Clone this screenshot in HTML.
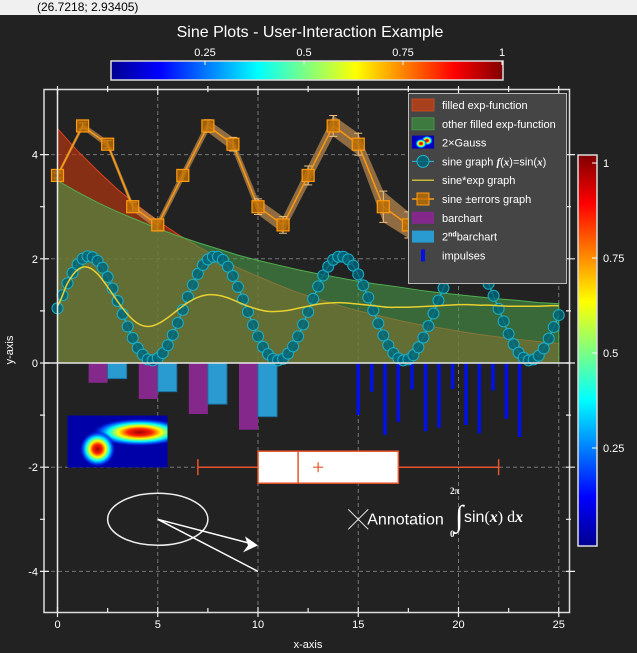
<!DOCTYPE html>
<html><head><meta charset="utf-8"><style>
html,body{margin:0;padding:0;background:#222;width:637px;height:653px;overflow:hidden;font-family:"Liberation Sans",sans-serif}
#status{position:absolute;left:0;top:0;width:637px;height:15px;background:#f0f0f0;font-size:12px;color:#000;line-height:14px}
#status span{position:absolute;left:37px;top:0}
svg{position:absolute;left:0;top:0}
</style></head><body>
<div id="status"><span>(26.7218; 2.93405)</span></div>
<svg id="chart" width="637" height="653" font-family="Liberation Sans, sans-serif">
<defs>
<linearGradient id="jetH" x1="0" x2="1" y1="0" y2="0">
<stop offset="0" stop-color="#00008f"/><stop offset="0.125" stop-color="#0000ff"/><stop offset="0.375" stop-color="#00ffff"/><stop offset="0.625" stop-color="#ffff00"/><stop offset="0.875" stop-color="#ff0000"/><stop offset="1" stop-color="#800000"/>
</linearGradient>
<linearGradient id="jetV" x1="0" x2="0" y1="1" y2="0">
<stop offset="0" stop-color="#00008f"/><stop offset="0.125" stop-color="#0000ff"/><stop offset="0.375" stop-color="#00ffff"/><stop offset="0.625" stop-color="#ffff00"/><stop offset="0.875" stop-color="#ff0000"/><stop offset="1" stop-color="#800000"/>
</linearGradient>
<radialGradient id="g1"><stop offset="0" stop-color="#a00000"/><stop offset="0.25" stop-color="#ff2000"/><stop offset="0.45" stop-color="#ffff00"/><stop offset="0.65" stop-color="#00ffff"/><stop offset="0.85" stop-color="#0040ff" stop-opacity="0.8"/><stop offset="1" stop-color="#0000a0" stop-opacity="0"/></radialGradient>
<clipPath id="imgclip"><rect x="67.5" y="415.5" width="100" height="52"/></clipPath>
<clipPath id="plotclip"><rect x="44" y="89" width="526" height="524"/></clipPath>
</defs>
<text x="310" y="37" fill="#fff" font-size="16" text-anchor="middle">Sine Plots - User-Interaction Example</text>
<g id="topbar">
<rect x="111" y="61" width="392" height="19" fill="url(#jetH)" stroke="#ddd" stroke-width="1.5"/>
</g>
<g id="rightbar">
<rect x="578" y="155" width="19" height="391" fill="url(#jetV)" stroke="#ddd" stroke-width="1.5"/>
</g>
<g id="frame"></g>
<g id="grid"></g>
<g id="series" clip-path="url(#plotclip)"></g>
<g id="axes"></g>
<g id="legend"></g>
</svg>
<script>
// ---- data ----
const gridX=[5,10,15,20,25];
const gridY=[-4,-2,2,4];
const xTicks=[0,5,10,15,20,25];
const xMinor=[0,2.5,5,7.5,10,12.5,15,17.5,20,22.5,25];
const yTicks=[-4,-2,0,2,4];
const yMinor=[-4,-3,-2,-1,0,1,2,3,4];
const fillX=[0,1,2,3,4,5,6,7,8,9,10,11,12,13,14,15,16,17,18,19,20,21,22,23,24,25];
const redFill=[4.50,4.07,3.69,3.33,3.02,2.73,2.47,2.24,2.02,1.83,1.66,1.50,1.35,1.23,1.11,1.00,0.91,0.82,0.74,0.68,0.61,0.55,0.50,0.45,0.41,0.37];
const greenFill=[3.50,3.28,3.08,2.90,2.74,2.58,2.44,2.31,2.19,2.07,1.97,1.88,1.79,1.71,1.64,1.57,1.51,1.46,1.40,1.35,1.31,1.27,1.23,1.20,1.16,1.14];
const sineStep=0.25;
const sineY=[1.05,1.30,1.53,1.73,1.89,2.00,2.05,2.03,1.96,1.83,1.65,1.43,1.19,0.94,0.70,0.48,0.29,0.16,0.07,0.05,0.09,0.19,0.34,0.54,0.77,1.02,1.27,1.50,1.71,1.88,1.99,2.04,2.04,1.98,1.85,1.67,1.46,1.22,0.98,0.73,0.51,0.31,0.17,0.08,0.05,0.08,0.18,0.32,0.51,0.74,0.98,1.23,1.47,1.68,1.85,1.98,2.04,2.04,1.99,1.87,1.70,1.49,1.26,1.01,0.76,0.53,0.34,0.19,0.09,0.05,0.07,0.15,0.30,0.49,0.71,0.95,1.20,1.44,1.65,1.84,1.96,2.04,2.05,1.99,1.89,1.73,1.52,1.29,1.04,0.80,0.56,0.36,0.20,0.10,0.05,0.07,0.14,0.28,0.47,0.69,0.92];
const sexpStep=0.5;
const sexpY=[1.10,1.53,1.79,1.84,1.71,1.46,1.18,0.93,0.76,0.70,0.75,0.87,1.02,1.16,1.26,1.31,1.30,1.25,1.17,1.09,1.03,0.99,0.99,1.01,1.05,1.09,1.13,1.15,1.16,1.15,1.13,1.11,1.09,1.07,1.07,1.07,1.08,1.09,1.10,1.11,1.12,1.12,1.11,1.11,1.10,1.09,1.09,1.09,1.09,1.10,1.10];
const errX=[0,1.25,2.5,3.75,5,6.25,7.5,8.75,10,11.25,12.5,13.75,15,16.25,17.5,18.75,20,21.25,22.5,23.75,25];
const errY=[3.6,4.55,4.2,3.0,2.65,3.6,4.55,4.2,3.0,2.65,3.6,4.55,4.2,3.0,2.65,3.6,4.55,4.2,3.0,2.65,3.6];
const errE=[0.05,0.06,0.07,0.08,0.1,0.11,0.12,0.13,0.15,0.16,0.18,0.2,0.21,0.3,0.25,0.3,0.3,0.32,0.34,0.36,0.38];
const barCats=[2.5,5,7.5,10];
const bar1=[-0.38,-0.69,-0.98,-1.28];
const bar2=[-0.30,-0.55,-0.79,-1.03];
const impX=[15.0,15.67,16.33,17.0,17.68,18.36,19.03,19.71,20.38,21.04,21.72,22.39,23.05];
const impY=[-1.0,-0.55,-1.38,-1.13,-0.51,-1.31,-1.24,-0.5,-1.19,-1.35,-0.53,-1.07,-1.42];
const boxStats=[7,10,12,13,17,22]; // min,q1,median,mean,q3,max
const boxPos=[-2];
const topBarLabels=["0.25","0.5","0.75","1"];
const topBarVals=[0.25,0.5,0.75,1];
const rightBarLabels=["0.25","0.5","0.75","1"];
const rightBarVals=[0.25,0.5,0.75,1];

// ---- scales ----
const X=v=>57.5+20.05*v;
const Y=v=>363-52.1*v;
const TB=v=>106+396*v;
const RB=v=>543-380*v;
const NS='http://www.w3.org/2000/svg';
function mk(parent,tag,attrs,text){const e=document.createElementNS(NS,tag);for(const k in attrs)e.setAttribute(k,attrs[k]);if(text!==undefined)e.textContent=text;document.getElementById(parent).appendChild(e);return e;}

topBarVals.forEach((v,i)=>{
 const t=mk('topbar','text',{x:TB(v),y:56,fill:'#fff','font-size':11,'text-anchor':'middle'},topBarLabels[i]);
 
 
 const l=mk('topbar','line',{x1:TB(v),x2:TB(v),y1:61,y2:65,stroke:'#fff'});
 
 
});
rightBarVals.forEach((v,i)=>{
 const t=mk('rightbar','text',{x:603,y:RB(v)+4,fill:'#fff','font-size':11},rightBarLabels[i]);
 
 
 const l=mk('rightbar','line',{x1:592,x2:597,y1:RB(v),y2:RB(v),stroke:'#fff'});
 
 
});

const fr=mk('frame','rect',{x:44,y:89.5,width:525.5,height:523,fill:'none',stroke:'#ddd','stroke-width':1.5});



gridX.forEach(v=>{const l=mk('grid','line',{x1:X(v),x2:X(v),y1:90,y2:612,stroke:'#777','stroke-dasharray':'4,3'});
 
 });
gridY.forEach(v=>{const l=mk('grid','line',{x1:44,x2:569,y1:Y(v),y2:Y(v),stroke:'#777','stroke-dasharray':'4,3'});
 
 });

function fillPath(ys){let d='M'+X(fillX[0])+','+Y(0);fillX.forEach((x,i)=>{d+=' L'+X(x)+','+Y(ys[i]);});d+=' L'+X(fillX[fillX.length-1])+','+Y(0)+' Z';return d;}
const rf=mk('series','path',{d:fillPath(redFill),fill:'rgba(190,55,15,0.65)',stroke:'#e04020','stroke-width':1});


const gf=mk('series','path',{d:fillPath(greenFill),fill:'rgba(74,154,74,0.6)',stroke:'#50b050','stroke-width':1});



const bw=0.95;
barCats.forEach((c,i)=>{
 const r1=mk('series','rect',{x:X(c-bw),y:Y(0),width:X(bw)-X(0),height:Y(bar1[i])-Y(0),fill:'#84288c'});
 
 
 const r2=mk('series','rect',{x:X(c),y:Y(0),width:X(bw)-X(0),height:Y(bar2[i])-Y(0),fill:'#2a9bd0',stroke:'#1c6f9c','stroke-width':1});
 
 
});

impX.forEach((x,i)=>{
 const l=mk('series','line',{x1:X(x),x2:X(x),y1:Y(0),y2:Y(impY[i]),stroke:'#0010e8','stroke-width':3.5});
 
 
});

let up='',dn='';
errX.forEach((x,i)=>{up+=(i?' L':'M')+X(x)+','+Y(errY[i]+errE[i]);});
for(let i=errX.length-1;i>=0;i--){dn+=' L'+X(errX[i])+','+Y(errY[i]-errE[i]);}
const band=mk('series','path',{d:up+dn+' Z',fill:'rgba(190,140,80,0.7)',stroke:'none'});


const eg=mk('series','polyline',{points:errX.map((x,i)=>X(x)+','+Y(errY[i])).join(' '),fill:'none',stroke:'#ff9a10','stroke-width':1.5});


errX.forEach((x,i)=>{
 const px=X(x),a=Y(errY[i]+errE[i]),b=Y(errY[i]-errE[i]);
 const e=mk('series','path',{d:`M${px},${a} V${b} M${px-4},${a} H${px+4} M${px-4},${b} H${px+4}`,stroke:'#f0c080','stroke-width':1,fill:'none'});
 
 
 const s=mk('series','rect',{x:px-6,y:Y(errY[i])-6,width:12,height:12,fill:'rgba(190,110,0,0.8)',stroke:'#ff9a10','stroke-width':1.2});
 
 
});

const sp=sineY.map((y,i)=>X(i*sineStep)+','+Y(y)).join(' ');
const sl=mk('series','polyline',{points:sp,fill:'none',stroke:'#20c0d8','stroke-width':1.2});


sineY.forEach((y,i)=>{
 const c=mk('series','circle',{cx:X(i*sineStep),cy:Y(y),r:5.5,fill:'rgba(0,100,120,0.8)',stroke:'#1ab0c8','stroke-width':1});
 
 
});

let sd='';
sexpY.forEach((y,i)=>{
 const x0=X(i*sexpStep),y0=Y(y);
 if(i===0){sd='M'+x0+','+y0;return;}
 const pm=sexpY[Math.max(i-2,0)],p0=sexpY[i-1],p1=y,pn=sexpY[Math.min(i+1,sexpY.length-1)];
 const xa=X((i-1)*sexpStep),h=X(sexpStep)-X(0);
 const c1y=Y(p0+(p1-pm)/6),c2y=Y(p1-(pn-p0)/6);
 sd+=` C${xa+h/3},${c1y} ${x0-h/3},${c2y} ${x0},${y0}`;
});
const se=mk('series','path',{d:sd,fill:'none',stroke:'#e8d030','stroke-width':1.5});



const ig=mk('series','g',{'clip-path':'url(#imgclip)'});


ig.innerHTML='<rect x="67.5" y="415.5" width="100" height="52" fill="#0000a8"/>'+
'<ellipse cx="'+X(4.1)+'" cy="'+Y(-1.33)+'" rx="48" ry="14" fill="url(#g1)"/>'+
'<ellipse cx="'+X(2.0)+'" cy="'+Y(-1.65)+'" rx="18" ry="18" fill="url(#g1)"/>';

const [bmin,bq1,bmed,bmean,bq3,bmax]=boxStats;const by=Y(boxPos[0]);const bh=16;
const bg=mk('series','g',{});


bg.innerHTML=`<line x1="${X(bmin)}" x2="${X(bq1)}" y1="${by}" y2="${by}" stroke="#e8542c" stroke-width="1.5"/>
<line x1="${X(bq3)}" x2="${X(bmax)}" y1="${by}" y2="${by}" stroke="#e8542c" stroke-width="1.5"/>
<line x1="${X(bmin)}" x2="${X(bmin)}" y1="${by-8}" y2="${by+8}" stroke="#e8542c" stroke-width="1.5"/>
<line x1="${X(bmax)}" x2="${X(bmax)}" y1="${by-8}" y2="${by+8}" stroke="#e8542c" stroke-width="1.5"/>
<rect x="${X(bq1)}" y="${by-bh}" width="${X(bq3)-X(bq1)}" height="${2*bh}" fill="#fff" stroke="#e8542c" stroke-width="1.5"/>
<line x1="${X(bmed)}" x2="${X(bmed)}" y1="${by-bh}" y2="${by+bh}" stroke="#e8542c" stroke-width="1.5"/>
<path d="M${X(bmean)-5},${by} H${X(bmean)+5} M${X(bmean)},${by-5} V${by+5}" stroke="#e8542c" stroke-width="1.2"/>`;

const an=mk('series','g',{});


an.innerHTML=`<ellipse cx="${X(5)}" cy="${Y(-3)}" rx="${X(2.5)-X(0)}" ry="26" fill="none" stroke="#eee" stroke-width="1.5"/>
<line x1="${X(5)}" y1="${Y(-3)}" x2="${X(10)}" y2="${Y(-4)}" stroke="#fff" stroke-width="1.5"/>
<line x1="${X(5)}" y1="${Y(-3)}" x2="${X(10)-4}" y2="${Y(-3.5)-1}" stroke="#fff" stroke-width="1.5"/>
<path d="M${X(10)},${Y(-3.5)} l-13,-9 l3,9 l-5,7 z" fill="#fff"/>`;
const at=mk('series','g',{});


at.innerHTML=`<path d="M${X(15)-10},${Y(-3)-10} l20,20 M${X(15)-10},${Y(-3)+10} l20,-20" stroke="#eee" stroke-width="1"/>
<text x="${X(15)+9}" y="${Y(-3)+5}" fill="#fff" font-size="16">Annotation</text>
<text x="455" y="526" fill="#fff" font-size="30" font-family="Liberation Serif,serif" font-style="italic">∫</text>
<text x="450" y="494" fill="#fff" font-size="9" font-weight="bold" font-family="Liberation Serif,serif">2π</text>
<text x="450" y="537" fill="#fff" font-size="9" font-weight="bold" font-family="Liberation Serif,serif">0</text>
<text x="464" y="522" fill="#fff" font-size="16">sin<tspan font-family="Liberation Serif,serif">(</tspan><tspan font-family="Liberation Serif,serif" font-style="italic" font-weight="bold">x</tspan><tspan font-family="Liberation Serif,serif">) d</tspan><tspan font-family="Liberation Serif,serif" font-style="italic" font-weight="bold">x</tspan></text>`;

const ax0=mk('axes','line',{x1:44,x2:569,y1:Y(0),y2:Y(0),stroke:'#e8e8e8','stroke-width':1.5});


const ay0=mk('axes','line',{x1:X(0),x2:X(0),y1:90,y2:612,stroke:'#e8e8e8','stroke-width':1.5});


xMinor.forEach(v=>{
 const major=xTicks.includes(v);
 const t=mk('axes','path',{d:`M${X(v)},612 v${major?-5:-4} M${X(v)},612 v${major?5:0} M${X(v)},86 v${major?9:6}`,stroke:'#eee','stroke-width':1.2});
 
 
});
xTicks.forEach(v=>{
 const t=mk('axes','text',{x:X(v),y:628,fill:'#fff','font-size':11,'text-anchor':'middle'},String(v));
 
 
});
yMinor.forEach(v=>{
 const major=yTicks.includes(v);
 const t=mk('axes','path',{d:`M40,${Y(v)} h${major?9:5} M566,${Y(v)} h${major?9:5}`,stroke:'#eee','stroke-width':1.2});
 
 
});
yTicks.forEach(v=>{
 const t=mk('axes','text',{x:38,y:Y(v)+4,fill:'#fff','font-size':11,'text-anchor':'end'},String(v));
 
 
});
const xt=mk('axes','text',{x:308,y:648,fill:'#fff','font-size':11,'text-anchor':'middle'},'x-axis');


const yt=mk('axes','text',{x:0,y:0,fill:'#fff','font-size':11,'text-anchor':'middle',transform:'translate(13,350) rotate(-90)'},'y-axis');



const lg=document.getElementById('legend');


const lb=mk('legend','rect',{x:408.5,y:93.5,width:158,height:190,fill:'#454545',stroke:'#bbb','stroke-width':1});


const legLabels=['filled exp-function','other filled exp-function','2×Gauss','sine graph ','sine*exp graph','sine ±errors graph','barchart','','impulses'];
legLabels.forEach((lab,i)=>{
 const cy=105+i*18.8;
 const g=mk('legend','g',{});
 
 
 let sym='';
 if(i===0)sym=`<rect x="412" y="${cy-6}" width="22" height="12" fill="#a8401e" stroke="#c04a20"/>`;
 if(i===1)sym=`<rect x="412" y="${cy-6}" width="22" height="12" fill="#3c7a40" stroke="#4a904a"/>`;
 if(i===2)sym=`<rect x="412" y="${cy-7}" width="22" height="13" fill="#0000c0"/><ellipse cx="427" cy="${cy-2}" rx="6" ry="5" fill="url(#g1)"/><ellipse cx="421" cy="${cy+1}" rx="6" ry="5" fill="url(#g1)"/>`;
 if(i===3)sym=`<line x1="412" x2="434" y1="${cy}" y2="${cy}" stroke="#20c0d8"/><circle cx="423" cy="${cy}" r="6" fill="rgba(0,100,120,0.85)" stroke="#20b8d0"/>`;
 if(i===4)sym=`<line x1="412" x2="434" y1="${cy}" y2="${cy}" stroke="#c8b840" stroke-width="1.5"/>`;
 if(i===5)sym=`<line x1="412" x2="434" y1="${cy}" y2="${cy}" stroke="#ff9a10" stroke-width="1.5"/><rect x="417" y="${cy-6}" width="12" height="12" fill="rgba(190,110,0,0.8)" stroke="#ff9a10"/>`;
 if(i===6)sym=`<rect x="412" y="${cy-6}" width="22" height="12" fill="#84288c"/>`;
 if(i===7)sym=`<rect x="412" y="${cy-6}" width="22" height="12" fill="#2a9bd0"/>`;
 if(i===8)sym=`<rect x="421" y="${cy-6}" width="4" height="12" fill="#0010e8"/>`;
 let txt;
 if(i===3)txt=`<text x="442" y="${cy+4}" fill="#fff" font-size="11">sine graph <tspan font-family="Liberation Serif,serif" font-style="italic" font-weight="bold">f</tspan>(<tspan font-family="Liberation Serif,serif" font-style="italic" font-weight="bold">x</tspan>)=sin(<tspan font-family="Liberation Serif,serif" font-style="italic" font-weight="bold">x</tspan>)</text>`;
 else if(i===7)txt=`<text x="442" y="${cy+4}" fill="#fff" font-size="11">2<tspan font-size="7" dy="-4" font-weight="bold">nd</tspan><tspan dy="4">barchart</tspan></text>`;
 else txt=`<text x="442" y="${cy+4}" fill="#fff" font-size="11">${lab}</text>`;
 g.innerHTML=sym+txt;
});
</script>
</body></html>
